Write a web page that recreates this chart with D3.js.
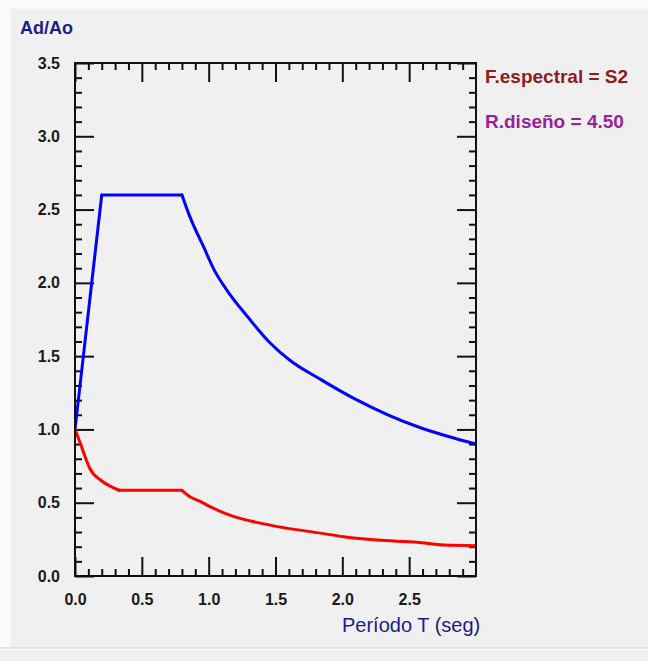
<!DOCTYPE html>
<html>
<head>
<meta charset="utf-8">
<script src="https://cdn.jsdelivr.net/npm/d3@7"></script>
<style>
  body { margin: 0; background: #fafafa; }
  text { font-family: "Liberation Sans", Arial, sans-serif; }
</style>
</head>
<body>
<div id="chart"></div>
<script>
// periods (s) and Ad/Ao values
const elasticT = [0, 0.2, 0.8, 0.86, 0.96, 1.04, 1.16, 1.29, 1.46, 1.61, 1.84, 2.09, 2.34, 2.59, 2.84, 3.0];
const elasticV = [1.0, 2.6, 2.6, 2.45, 2.25, 2.09, 1.92, 1.77, 1.59, 1.47, 1.34, 1.21, 1.10, 1.01, 0.94, 0.90];
const elasticBreaks = [0, 1, 2, 15];   // rise | plateau | decay

const designT = [0, 0.04, 0.075, 0.11, 0.19, 0.26, 0.33, 0.8, 0.86, 0.94, 1.01, 1.19, 1.36, 1.56, 1.81, 2.01, 2.26, 2.56, 2.76, 3.0];
const designV = [1.0, 0.905, 0.815, 0.735, 0.655, 0.614, 0.585, 0.585, 0.541, 0.507, 0.473, 0.405, 0.366, 0.33, 0.296, 0.268, 0.245, 0.23, 0.211, 0.207];
const designBreaks = [0, 6, 7, 19];

const xMajor = [0, 0.5, 1.0, 1.5, 2.0, 2.5];
const yMajor = [0, 0.5, 1.0, 1.5, 2.0, 2.5, 3.0, 3.5];
const xMinor = d3.range(1, 30).map(i => i / 10).filter(v => Math.round(v * 10) % 5 !== 0);
const yMinor = d3.range(1, 35).map(i => i / 10).filter(v => Math.round(v * 10) % 5 !== 0);

const legendLines = [
  { text: "F.espectral = S2", color: "#8e1c1c" },
  { text: "R.diseño = 4.50", color: "#9a1f9a" }
];

const W = 648, H = 661;
const margin = { top: 63, right: 172, bottom: 85, left: 75 };
const width = W - margin.left - margin.right;   // 401
const height = H - margin.top - margin.bottom;  // 513

const svg = d3.select("#chart").append("svg")
  .attr("width", W)
  .attr("height", H);

// panel background
svg.append("rect").attr("x", 11).attr("y", 9).attr("width", W - 11).attr("height", 638).attr("fill", "#f0f0f0");
svg.append("rect").attr("x", 0).attr("y", 647).attr("width", W).attr("height", 2).attr("fill", "#e2e2e2");
svg.append("rect").attr("x", 0).attr("y", 650).attr("width", W).attr("height", 11).attr("fill", "#f0f0f0");

const g = svg.append("g").attr("transform", `translate(${margin.left},${margin.top})`);

const x = d3.scaleLinear().domain([0, 3]).range([0, width]);
const y = d3.scaleLinear().domain([0, 3.5]).range([height, 0]);

function styleAxis(sel) {
  sel.select(".domain").remove();
  sel.selectAll("line").attr("stroke", "#111").attr("stroke-width", 2);
  sel.selectAll("text")
    .style("font-size", "16px")
    .style("font-weight", "bold")
    .attr("fill", "#1a1a1a");
}

// bottom
g.append("g").attr("transform", `translate(0,${height})`)
  .call(d3.axisBottom(x).tickValues(xMajor).tickSize(-19).tickPadding(18).tickFormat(d3.format(".1f")))
  .call(styleAxis);
g.append("g").attr("transform", `translate(0,${height})`)
  .call(d3.axisBottom(x).tickValues(xMinor).tickSize(-7).tickFormat(""))
  .call(styleAxis);
// top
g.append("g")
  .call(d3.axisTop(x).tickValues(xMajor).tickSize(-19).tickFormat(""))
  .call(styleAxis);
g.append("g")
  .call(d3.axisTop(x).tickValues(xMinor).tickSize(-7).tickFormat(""))
  .call(styleAxis);
// left
g.append("g")
  .call(d3.axisLeft(y).tickValues(yMajor).tickSize(-19).tickPadding(15).tickFormat(d3.format(".1f")))
  .call(styleAxis);
g.append("g")
  .call(d3.axisLeft(y).tickValues(yMinor).tickSize(-7).tickFormat(""))
  .call(styleAxis);
// right
g.append("g").attr("transform", `translate(${width},0)`)
  .call(d3.axisRight(y).tickValues(yMajor).tickSize(-19).tickFormat(""))
  .call(styleAxis);
g.append("g").attr("transform", `translate(${width},0)`)
  .call(d3.axisRight(y).tickValues(yMinor).tickSize(-7).tickFormat(""))
  .call(styleAxis);

// curves
g.append("clipPath").attr("id", "clip")
  .append("rect").attr("x", 0).attr("y", -2).attr("width", width + 1).attr("height", height + 2);

const smooth = d3.line()
  .x(d => x(d[0]))
  .y(d => y(d[1]))
  .curve(d3.curveMonotoneX);

// each branch drawn on its own so the corners stay sharp
function drawSpectrum(T, V, breaks, color) {
  const pts = d3.zip(T, V);
  const pieces = d3.pairs(breaks).map(([a, b]) => pts.slice(a, b + 1));
  g.append("g")
    .attr("clip-path", "url(#clip)")
    .selectAll("path")
    .data(pieces)
    .enter().append("path")
    .attr("fill", "none")
    .attr("stroke", color)
    .attr("stroke-width", 3)
    .attr("stroke-linecap", "round")
    .attr("d", smooth);
}

drawSpectrum(elasticT, elasticV, elasticBreaks, "#0000ff");
drawSpectrum(designT, designV, designBreaks, "#ff0000");

// frame
g.append("rect")
  .attr("width", width)
  .attr("height", height)
  .attr("fill", "none")
  .attr("stroke", "#111")
  .attr("stroke-width", 2);

// axis titles
svg.append("text")
  .attr("x", 20)
  .attr("y", 34)
  .style("font-size", "18px")
  .style("font-weight", "bold")
  .attr("fill", "#1c1c8c")
  .text("Ad/Ao");

svg.append("text")
  .attr("x", 342)
  .attr("y", 632)
  .style("font-size", "20px")
  .attr("fill", "#1c1c8c")
  .text("Período T (seg)");

// side notes
svg.selectAll(".note")
  .data(legendLines)
  .enter().append("text")
  .attr("class", "note")
  .attr("x", 485)
  .attr("y", (d, i) => 83 + i * 45)
  .style("font-size", "19px")
  .style("font-weight", "bold")
  .attr("fill", d => d.color)
  .text(d => d.text);
</script>
</body>
</html>
